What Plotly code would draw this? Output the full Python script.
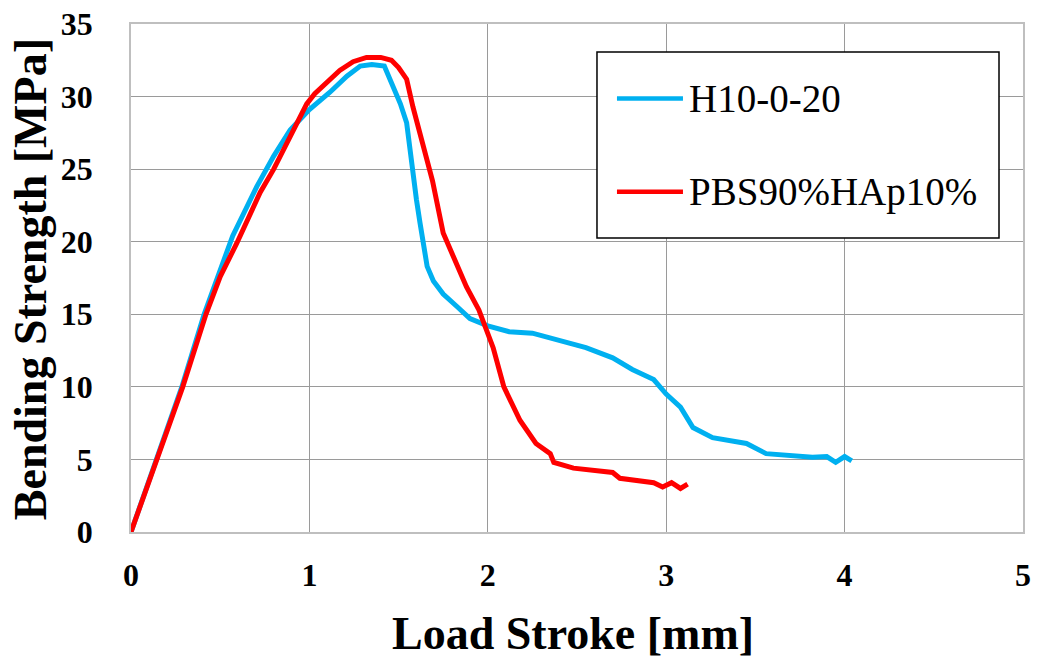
import plotly.graph_objects as go

# H10-0-20 (blue)
h10_x = [0, 0.145, 0.285, 0.41, 0.48, 0.57, 0.705, 0.80, 0.892, 1.0, 1.115, 1.21, 1.285,
         1.35, 1.42, 1.47, 1.51, 1.545, 1.564, 1.575, 1.60, 1.62, 1.64, 1.66, 1.695, 1.75,
         1.83, 1.90, 2.0, 2.12, 2.25, 2.40, 2.55, 2.70, 2.81, 2.93, 3.00, 3.08, 3.15, 3.26,
         3.45, 3.56, 3.82, 3.90, 3.95, 4.00, 4.04]
h10_y = [0, 5, 10, 15, 17.4, 20.4, 23.8, 25.9, 27.7, 29.1, 30.3, 31.4, 32.1,
         32.2, 32.1, 30.6, 29.5, 28.2, 26.3, 24.7, 22.9, 21.3, 20.0, 18.3, 17.3, 16.4,
         15.5, 14.7, 14.2, 13.8, 13.7, 13.2, 12.7, 12.0, 11.2, 10.5, 9.5, 8.6, 7.2, 6.5,
         6.1, 5.4, 5.15, 5.2, 4.8, 5.2, 4.9]

# PBS90%HAp10% (red)
pbs_x = [0, 0.145, 0.29, 0.42, 0.50, 0.593, 0.724, 0.80, 0.892, 0.94, 0.985, 1.03, 1.08,
         1.17, 1.245, 1.32, 1.40, 1.46, 1.50, 1.545, 1.58, 1.64, 1.69, 1.75, 1.80, 1.83,
         1.88, 1.95, 1.99, 2.03, 2.09, 2.18, 2.27, 2.35, 2.37, 2.48, 2.70, 2.74, 2.93,
         2.98, 3.03, 3.08, 3.12]
pbs_y = [0, 5, 10, 15, 17.6, 19.9, 23.4, 25.0, 27.2, 28.5, 29.5, 30.2, 30.8,
         31.8, 32.4, 32.7, 32.7, 32.5, 32.0, 31.2, 29.3, 26.5, 24.2, 20.6, 19.2, 18.3,
         16.9, 15.3, 13.9, 12.7, 10.0, 7.7, 6.1, 5.4, 4.8, 4.4, 4.1, 3.7, 3.4,
         3.1, 3.4, 3.0, 3.3]

series_names = ["H10-0-20", "PBS90%HAp10%"]
series_colors = ["#00B0F0", "#FF0000"]

x_ticks = [0, 1, 2, 3, 4, 5]
y_ticks = [0, 5, 10, 15, 20, 25, 30, 35]

x_title = "Load Stroke [mm]"
y_title = "Bending Strength [MPa]"

serif = "Liberation Serif"

fig = go.Figure()
for xs, ys, name, col in [(h10_x, h10_y, series_names[0], series_colors[0]),
                          (pbs_x, pbs_y, series_names[1], series_colors[1])]:
    fig.add_trace(go.Scatter(x=xs, y=ys, mode="lines", name=name,
                             line=dict(color=col, width=5), showlegend=False))

axis_common = dict(
    showgrid=True, gridcolor="#9A9A9A", gridwidth=1.2,
    showline=True, linecolor="#BFBFBF", linewidth=1.5, mirror=True,
    zeroline=False, ticks="",
    tickfont=dict(family=serif, size=32, color="black", weight="bold"),
)
fig.update_xaxes(range=[0, 5], tickvals=x_ticks, ticktext=[str(v) for v in x_ticks],
                 ticklabelstandoff=14, **axis_common)
fig.update_yaxes(range=[0, 35], tickvals=y_ticks, ticktext=[str(v) for v in y_ticks],
                 ticklabelstandoff=30, **axis_common)

# axis titles
fig.add_annotation(text=x_title, xref="paper", yref="paper", x=0.495, y=-0.2,
                   xanchor="center", yanchor="middle", showarrow=False,
                   font=dict(family=serif, size=46, color="black", weight="bold"))
fig.add_annotation(text=y_title, xref="paper", yref="paper", x=-0.113, y=0.498,
                   xanchor="center", yanchor="middle", showarrow=False, textangle=-90,
                   font=dict(family=serif, size=46, color="black", weight="bold"))

# legend (drawn manually)
fig.add_shape(type="rect", xref="paper", yref="paper", x0=0.5224, x1=0.9731, y0=0.5787, y1=0.9449,
              line=dict(color="black", width=1.5), fillcolor="white", layer="above")
leg_y = [0.8533, 0.6699]
for i in range(2):
    fig.add_shape(type="line", xref="paper", yref="paper", x0=0.5448, x1=0.6188,
                  y0=leg_y[i], y1=leg_y[i], line=dict(color=series_colors[i], width=4.5),
                  layer="above")
    fig.add_annotation(text=series_names[i], xref="paper", yref="paper", x=0.6233, y=leg_y[i],
                       xanchor="left", yanchor="middle", showarrow=False,
                       font=dict(family=serif, size=39, color="black"))

fig.update_layout(
    width=1037, height=659,
    margin=dict(l=131, r=14, t=24, b=127, autoexpand=False),
    paper_bgcolor="white", plot_bgcolor="white",
    showlegend=False,
)

fig.write_html("out.html")
